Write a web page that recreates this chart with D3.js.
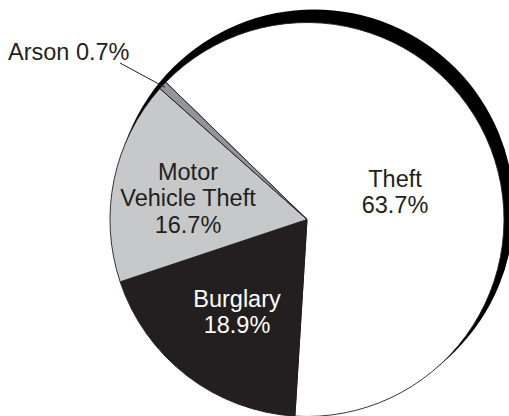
<!DOCTYPE html>
<html>
<head>
<meta charset="utf-8">
<script src="https://cdn.jsdelivr.net/npm/d3@7/dist/d3.min.js"></script>
<style>
  html, body { margin: 0; padding: 0; background: #fff; }
  svg { display: block; }
  text { font-family: "Liberation Sans", Arial, Helvetica, sans-serif; }
</style>
</head>
<body>
<script>
// Offense categories, in clockwise order from the Theft slice
const categories = ["Theft", "Burglary", "Motor Vehicle Theft", "Arson"];
const percents = [63.7, 18.9, 16.7, 0.7];
const fills = ["#ffffff", "#231f20", "#c7c8ca", "#939598"];
const labelLines = [["Theft", "63.7%"], ["Burglary", "18.9%"], ["Motor", "Vehicle Theft", "16.7%"], ["Arson 0.7%"]];

const width = 509, height = 416;
const cx = 307, cy = 219.5, radius = 197;

const svg = d3.select("body").append("svg")
  .attr("width", width)
  .attr("height", height);

const g = svg.append("g").attr("transform", `translate(${cx},${cy})`);

// Dark rim behind the pie, shifted up and to the right
g.append("circle")
  .attr("cx", 7).attr("cy", -10)
  .attr("r", radius + 3)
  .attr("fill", "#000");

const startAngle = -45.8 * Math.PI / 180;
const pie = d3.pie().sort(null)
  .startAngle(startAngle)
  .endAngle(startAngle + 2 * Math.PI);
const arcs = pie(percents);
const arc = d3.arc().innerRadius(0).outerRadius(radius);

g.selectAll("path.slice")
  .data(arcs)
  .join("path")
  .attr("class", "slice")
  .attr("d", arc)
  .attr("fill", (d, i) => fills[i])
  .attr("stroke", "#231f20")
  .attr("stroke-width", 0.9)
  .attr("stroke-linejoin", "round");

// In-slice labels: anchor point per slice (offset from pie centre) and text colour
const labelPos = [[88, -32.5], [-70, 87.5], [-119, -39.5]];
const labelColor = ["#231f20", "#ffffff", "#231f20"];
const fontSize = 23.5, lineGap = 26.3;

labelPos.forEach((p, i) => {
  const t = g.append("text")
    .attr("text-anchor", "middle")
    .attr("font-size", fontSize)
    .attr("fill", labelColor[i]);
  labelLines[i].forEach((line, k) => {
    t.append("tspan")
      .attr("x", p[0])
      .attr("y", p[1] + k * lineGap)
      .text(line);
  });
});

// Arson: outside label with a leader line into its thin slice
const arsonArc = arcs[3];
const mid = (arsonArc.startAngle + arsonArc.endAngle) / 2;
const tip = [Math.sin(mid) * radius * 0.985, -Math.cos(mid) * radius * 0.985];
g.append("line")
  .attr("x1", 120 - cx).attr("y1", 63 - cy)
  .attr("x2", tip[0]).attr("y2", tip[1])
  .attr("stroke", "#231f20")
  .attr("stroke-width", 1);

svg.append("text")
  .attr("x", 8)
  .attr("y", 60)
  .attr("font-size", fontSize)
  .attr("fill", "#231f20")
  .text(labelLines[3][0]);
</script>
</body>
</html>
